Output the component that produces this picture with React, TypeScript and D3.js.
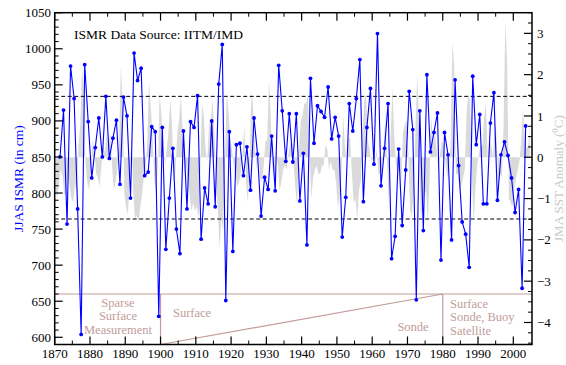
import React from "react";
import * as d3 from "d3";

// JJAS ISMR (cm), one value per year from 1871
const ismrStart = 1871;
const ismr = [
  850, 915, 757, 976, 931, 778, 604, 978, 899, 821,
  863, 904, 850, 934, 848, 876, 901, 812, 933, 907,
  793, 994, 956, 973, 824, 829, 892, 885, 629, 891,
  722, 793, 862, 750, 716, 886, 778, 899, 891, 935,
  736, 807, 785, 900, 781, 951, 1006, 651, 885, 719,
  867, 869, 824, 864, 804, 904, 854, 768, 822, 805,
  879, 803, 977, 914, 844, 910, 843, 910, 789, 855,
  728, 959, 869, 921, 913, 905, 947, 875, 905, 879,
  739, 794, 924, 886, 931, 985, 788, 891, 945, 840,
  1021, 810, 862, 924, 709, 740, 861, 755, 832, 941,
  888, 652, 914, 748, 964, 857, 884, 911, 707, 884,
  853, 735, 957, 838, 760, 743, 697, 962, 867, 909,
  785, 785, 897, 939, 790, 853, 871, 852, 821, 773,
  805, 668, 893,
];

// JMA SST anomaly (deg C), two values per year (first / second half) from 1870
const sstStart = 1870;
const sst = [
  -0.8, -1.0, -0.6, -0.3, -0.5, -0.9, -0.9, -0.4, -0.7, -1.0,
  -1.1, -0.6, -0.9, 0.3, 0.8, 2.2, 1.6, -0.2, -0.6, -0.8,
  -0.3, 0.4, 0.2, -0.4, -0.5, -0.7, -0.2, 0.3, 0.1, 0.6,
  0.2, 0.6, -0.2, -0.8, -0.6, -0.3, 0.4, 2.2, 1.4, -0.9,
  -1.2, -1.4, -0.6, 0.5, -0.8, -1.5, -1.4, -1.6, -1.2, -0.9,
  -0.5, -0.3, 0.4, 1.8, 1.2, 0.5, -0.6, -0.9, -0.2, 1.6,
  1.0, 0.3, -0.2, 0.2, 0.6, 1.4, 0.8, -0.6, -0.3, 0.6,
  0.9, 1.5, 0.7, -0.4, -0.2, -0.6, -0.9, -1.3, -1.1, -1.3,
  -1.2, -1.5, -0.4, 1.3, 1.0, 0.2, -0.1, 0.8, 0.9, 1.4,
  0.6, -0.5, -1.3, -2.2, -1.5, -1.8, -0.3, 1.6, 1.1, 0.5,
  0.2, -0.2, -0.4, -0.7, -0.6, -0.4, 0.1, 0.8, -0.6, -1.1,
  -0.2, 1.6, 1.2, 0.3, -0.3, 0.2, -0.5, -0.6, -0.2, 0.4,
  0.4, 1.9, 1.0, -0.3, -0.5, 0.2, -0.2, -0.8, -0.6, -0.3,
  -0.2, -0.3, 0.1, 0.3, 0.4, -0.2, -0.8, -1.2, 0.2, 0.9,
  1.0, 1.3, 1.3, 1.5, 0.2, -1.0, -0.5, -0.3, -0.2, -0.4,
  -0.4, -0.2, -0.2, 0.3, 0.2, -0.3, -0.1, -0.3, -0.3, -0.6,
  -1.2, -1.0, -0.5, 1.0, 0.3, -0.1, 0.4, 0.5, -0.4, -1.1,
  -1.0, -1.5, -0.8, -0.6, 0.6, 1.4, 1.5, 0.4, 0.2, -0.1,
  0.0, -0.2, 0.2, -0.4, -0.4, -0.3, 0.2, 1.1, -0.2, -1.2,
  0.6, 1.7, 0.5, -0.2, -0.4, -0.2, -0.6, 0.6, 0.8, 0.9,
  0.1, -1.3, -1.4, -0.9, 0.6, 2.0, 1.0, -1.5, -1.2, -0.9,
  -0.8, -1.6, -0.6, 1.0, 0.3, 0.6, 0.2, -0.3, 0.1, 0.4,
  0.3, -0.1, -0.5, -0.3, 0.4, 2.8, 2.2, -0.4, -0.4, -0.8,
  -0.7, -0.5, -0.3, 1.1, 1.5, 1.4, -0.4, -1.6, -0.8, -0.2,
  0.1, 0.3, 0.3, 1.0, 1.3, -0.1, 0.4, 0.3, 0.0, 0.9,
  0.5, -0.7, -0.4, -0.5, 0.8, 3.3, 2.3, -1.0, -1.1, -1.2,
  -0.8, -0.5, -0.3, -0.1, 0.4, 1.2, 0.4, 0.2, 0.3, 0.7,
];

const leftTicks = [600, 650, 700, 750, 800, 850, 900, 950, 1000, 1050];
const rightTicks = [-4, -3, -2, -1, 0, 1, 2, 3];
const yearTicks = [1870, 1880, 1890, 1900, 1910, 1920, 1930, 1940, 1950, 1960, 1970, 1980, 1990, 2000];
const upperLine = 934;
const lowerLine = 764;
const coverageBreaks = [1900, 1980];
const coverageLevel = 660;

const serif = "'Liberation Serif', 'DejaVu Serif', serif";
const brown = "#c29c9a";

export default function App() {
  const width = 566;
  const height = 365;
  const left = 54.7, right = 532, top = 12.7, bottom = 344.5;

  const x = d3.scaleLinear().domain([1870, 2005.3]).range([left, right]);
  const y = d3.scaleLinear().domain([590, 1050]).range([bottom, top]);
  const yR = d3.scaleLinear().domain([-4.533, 3.5]).range([bottom, top]);

  const rainLine = d3.line<number>()
    .x((d, i) => x(ismrStart + i + 0.5))
    .y(d => y(d));

  const sstArea = d3.area<number>()
    .x((d, i) => x(sstStart + i * 0.5 + 0.25))
    .y0(yR(0))
    .y1(d => yR(d));

  const minorLeft = d3.range(590, 1051, 10).filter(v => v % 50 !== 0);
  const minorRight = d3.range(-4.5, 3.51, 0.25).filter(v => v % 1 !== 0);
  const minorYears = d3.range(1875, 2005, 10);

  const bx = coverageBreaks.map(v => x(v));
  const ly = y(coverageLevel);

  return (
    <svg width={width} height={height} style={{ position: "absolute", left: 0, top: 0 }} fontFamily={serif}>
      <rect width={width} height={height} fill="#fff" />
      <path d={sstArea(sst) || ""} fill="#dadada" />

      {[upperLine, lowerLine].map(v => (
        <line key={v} x1={left} x2={right} y1={y(v)} y2={y(v)} stroke="#000" strokeWidth={1} strokeDasharray="4,2.5" />
      ))}

      {/* coverage annotation */}
      <g stroke={brown} strokeWidth={1.2} fill="none">
        <line x1={left} x2={right} y1={ly} y2={ly} />
        <line x1={bx[0]} x2={bx[0]} y1={ly} y2={bottom} />
        <line x1={bx[1]} x2={bx[1]} y1={ly} y2={bottom} />
        <line x1={bx[0]} x2={bx[1]} y1={bottom} y2={ly} />
      </g>
      <g fill={brown} fontSize={12.5}>
        <text x={118} y={306.5} textAnchor="middle">Sparse</text>
        <text x={118} y={320} textAnchor="middle">Surface</text>
        <text x={118} y={333.5} textAnchor="middle">Measurement</text>
        <text x={173} y={317}>Surface</text>
        <text x={413} y={331} textAnchor="middle">Sonde</text>
        <text x={450} y={307.5}>Surface</text>
        <text x={450} y={321}>Sonde, Buoy</text>
        <text x={450} y={334.5}>Satellite</text>
      </g>

      <path d={rainLine(ismr) || ""} fill="none" stroke="#0000ff" strokeWidth={1.1} />
      {ismr.map((v, i) => (
        <circle key={i} cx={x(ismrStart + i + 0.5)} cy={y(v)} r={1.9} fill="#0000ff" />
      ))}

      {/* frame */}
      <rect x={left} y={top} width={right - left} height={bottom - top} fill="none" stroke="#000" strokeWidth={1.5} />

      {/* left axis */}
      {leftTicks.map(v => (
        <g key={v}>
          <line x1={left} x2={left + 8} y1={y(v)} y2={y(v)} stroke="#000" strokeWidth={1.2} />
          <text x={51} y={y(v)} dy="0.35em" textAnchor="end" fontSize={13}>{v}</text>
        </g>
      ))}
      {minorLeft.map(v => (
        <line key={v} x1={left} x2={left + 4} y1={y(v)} y2={y(v)} stroke="#000" strokeWidth={1} />
      ))}

      {/* right axis */}
      {rightTicks.map(v => (
        <g key={v}>
          <line x1={right} x2={right - 8} y1={yR(v)} y2={yR(v)} stroke="#000" strokeWidth={1.2} />
          <text x={537} y={yR(v)} dy="0.35em" fontSize={13}>{v < 0 ? "\u2212" + Math.abs(v) : v}</text>
        </g>
      ))}
      {minorRight.map(v => (
        <line key={v} x1={right} x2={right - 4} y1={yR(v)} y2={yR(v)} stroke="#000" strokeWidth={1} />
      ))}

      {/* top and bottom axes */}
      {yearTicks.map(v => (
        <g key={v}>
          <line x1={x(v)} x2={x(v)} y1={bottom} y2={bottom - 8} stroke="#000" strokeWidth={1.2} />
          <line x1={x(v)} x2={x(v)} y1={top} y2={top + 8} stroke="#000" strokeWidth={1.2} />
          <text x={x(v)} y={358} textAnchor="middle" fontSize={13}>{v}</text>
        </g>
      ))}
      {minorYears.map(v => (
        <g key={v}>
          <line x1={x(v)} x2={x(v)} y1={bottom} y2={bottom - 4} stroke="#000" strokeWidth={1} />
          <line x1={x(v)} x2={x(v)} y1={top} y2={top + 4} stroke="#000" strokeWidth={1} />
        </g>
      ))}

      <text x={74} y={39} fontSize={13.5}>ISMR Data Source: IITM/IMD</text>

      <text transform={`translate(18,${(top + bottom) / 2}) rotate(-90)`} textAnchor="middle" dy="0.35em" fill="#0000ff" fontSize={13.5}>
        JJAS ISMR (in cm)
      </text>
      <text transform={`translate(558,${(top + bottom) / 2}) rotate(-90)`} textAnchor="middle" dy="0.35em" fill="#c8c8c8" fontSize={13}>
        JMA SST Anomaly (<tspan fontSize={9} dy="-5">0</tspan><tspan dy="5">C)</tspan>
      </text>
    </svg>
  );
}
